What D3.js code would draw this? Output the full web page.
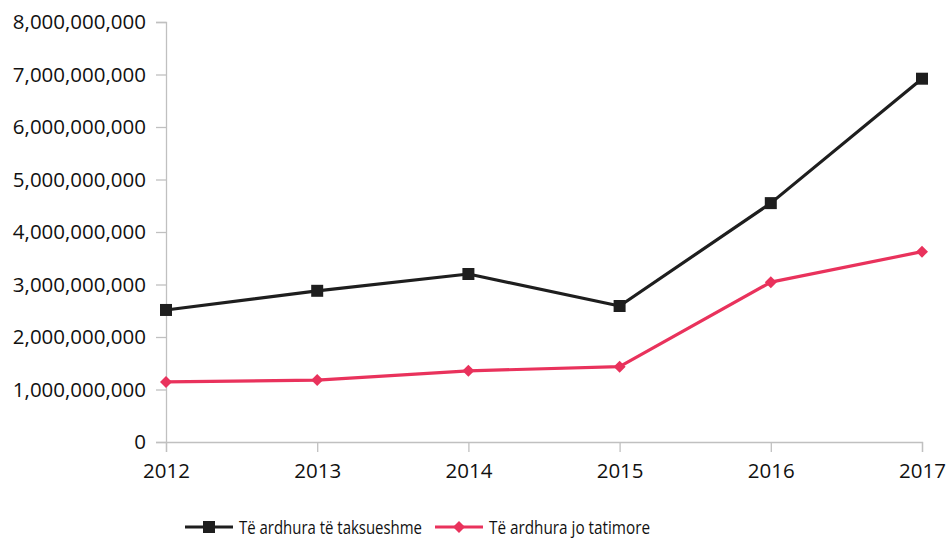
<!DOCTYPE html>
<html>
<head>
<meta charset="utf-8">
<script src="https://cdn.jsdelivr.net/npm/d3@7/dist/d3.min.js"></script>
<style>
  html, body { margin: 0; padding: 0; background: #fff; }
  svg { display: block; font-family: "Open Sans", "Noto Sans", sans-serif; }
</style>
</head>
<body>
<svg id="chart" width="947" height="539"></svg>
<script>
// Annual revenue series, 2012–2017
const years = ["2012", "2013", "2014", "2015", "2016", "2017"];
const taxableRevenue = [2515000000, 2880000000, 3200000000, 2590000000, 4550000000, 6920000000];
const nonTaxRevenue  = [1145000000, 1180000000, 1355000000, 1435000000, 3045000000, 3625000000];
const seriesNames = ["Të ardhura të taksueshme", "Të ardhura jo tatimore"];
const yTicks = [0, 1e9, 2e9, 3e9, 4e9, 5e9, 6e9, 7e9, 8e9];

const svg = d3.select("#chart");
const margin = { left: 166, right: 25, top: 22, bottom: 97 };
const W = 947, H = 539;

const x = d3.scalePoint().domain(years).range([margin.left, W - margin.right]);
const y = d3.scaleLinear().domain([0, 8e9]).range([H - margin.bottom, margin.top]);

const axisColor = "#c0c0c0";
const fmt = d3.format(",");

// y axis
const yAxis = svg.append("g")
  .attr("transform", `translate(${margin.left},0)`)
  .call(d3.axisLeft(y).tickValues(yTicks).tickSize(10).tickPadding(10).tickFormat(fmt));
yAxis.select(".domain").attr("stroke", axisColor).attr("stroke-width", 1.3);
yAxis.selectAll(".tick line").attr("stroke", axisColor).attr("stroke-width", 1.3);
yAxis.selectAll(".tick text").attr("font-size", 20.5).attr("fill", "#111")
  .attr("font-family", "Open Sans");

// x axis
const xAxis = svg.append("g")
  .attr("transform", `translate(0,${y(0)})`)
  .call(d3.axisBottom(x).tickSize(10).tickPadding(11));
xAxis.select(".domain").attr("stroke", axisColor).attr("stroke-width", 1.3);
xAxis.selectAll(".tick line").attr("stroke", axisColor).attr("stroke-width", 1.3);
xAxis.selectAll(".tick text").attr("font-size", 20.5).attr("fill", "#111")
  .attr("font-family", "Open Sans");

// marker shapes: filled square and a square turned 45°
const squarePath = "M-6,-6H6V6H-6Z";
const diamondPath = "M0,-6L6,0L0,6L-6,0Z";

const series = [
  { name: seriesNames[0], values: taxableRevenue, color: "#1e1e1e", marker: squarePath },
  { name: seriesNames[1], values: nonTaxRevenue,  color: "#e9325c", marker: diamondPath }
];

const line = d3.line().x((d, i) => x(years[i])).y(d => y(d));

series.forEach(s => {
  svg.append("path")
    .datum(s.values)
    .attr("fill", "none")
    .attr("stroke", s.color)
    .attr("stroke-width", 3.2)
    .attr("stroke-linejoin", "round")
    .attr("d", line);
  svg.append("g").selectAll("path")
    .data(s.values)
    .join("path")
    .attr("transform", (d, i) => `translate(${x(years[i])},${y(d)})`)
    .attr("d", s.marker)
    .attr("fill", s.color);
});

// legend
const legendY = 527;
const legendX = [185, 435];
const legendTextWidth = [183, 161];
series.forEach((s, i) => {
  const g = svg.append("g").attr("transform", `translate(${legendX[i]},${legendY})`);
  g.append("line").attr("x1", 0).attr("x2", 48).attr("y1", 0).attr("y2", 0)
    .attr("stroke", s.color).attr("stroke-width", 3.2);
  g.append("path").attr("transform", "translate(24,0)")
    .attr("d", s.marker).attr("fill", s.color);
  g.append("text").attr("x", 54).attr("y", 6.5)
    .attr("font-size", 17.5).attr("fill", "#111")
    .attr("textLength", legendTextWidth[i])
    .attr("lengthAdjust", "spacingAndGlyphs")
    .text(s.name);
});
</script>
</body>
</html>
